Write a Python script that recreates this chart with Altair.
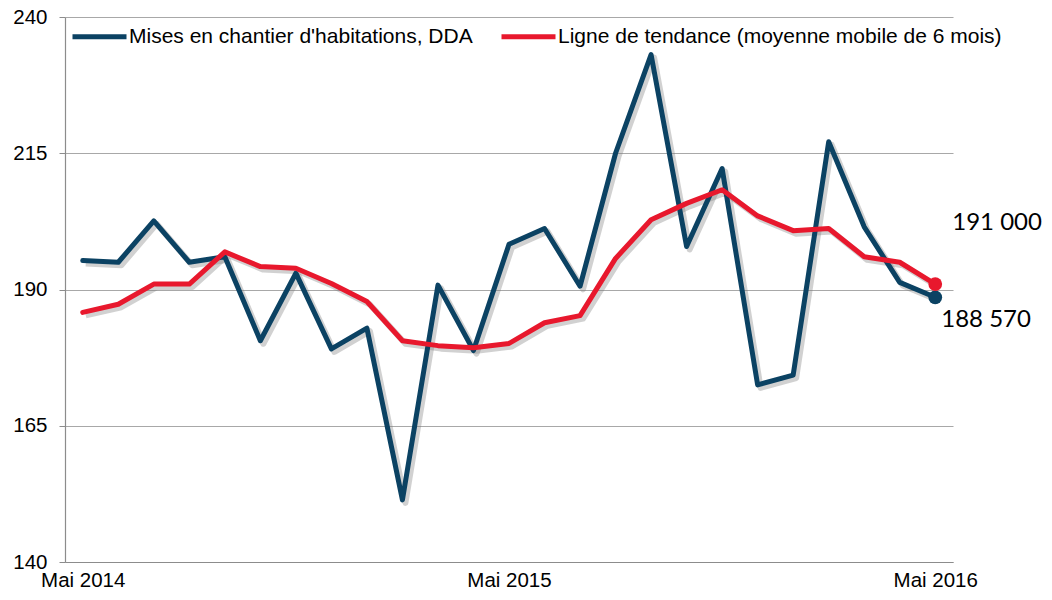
import altair as alt
import pandas as pd

months = ["Mai 2014", "Juin 2014", "Juillet 2014", "Août 2014", "Septembre 2014", "Octobre 2014",
          "Novembre 2014", "Décembre 2014", "Janvier 2015", "Février 2015", "Mars 2015", "Avril 2015",
          "Mai 2015", "Juin 2015", "Juillet 2015", "Août 2015", "Septembre 2015", "Octobre 2015",
          "Novembre 2015", "Décembre 2015", "Janvier 2016", "Février 2016", "Mars 2016", "Avril 2016",
          "Mai 2016"]

mises = [195.3, 195.0, 202.6, 195.0, 196.0, 180.6, 193.0, 179.1, 182.9, 151.4, 190.8, 178.8,
         198.3, 201.2, 190.6, 215.0, 233.1, 197.9, 212.2, 172.5, 174.3, 217.1, 201.5, 191.3, 188.57]

tendance = [185.8, 187.3, 191.0, 191.0, 196.9, 194.2, 193.9, 191.1, 187.8, 180.6, 179.7, 179.3,
            180.1, 183.9, 185.2, 195.7, 202.8, 205.8, 208.3, 203.5, 200.8, 201.2, 196.0, 195.0, 191.0]

series_names = ["Mises en chantier d'habitations, DDA",
                "Ligne de tendance (moyenne mobile de 6 mois)"]
series_colors = ["#0B4263", "#E8182D"]
end_labels = ["188 570", "191 000"]
x_labels = ["Mai 2014", "Mai 2015", "Mai 2016"]
y_ticks = [140, 165, 190, 215, 240]

rows = []
for s, vals in zip(series_names, [mises, tendance]):
    for m, v in zip(months, vals):
        rows.append({"mois": m, "serie": s, "valeur": v})
df = pd.DataFrame(rows)

end_df = pd.DataFrame({
    "mois": [months[-1], months[-1]],
    "serie": series_names,
    "valeur": [mises[-1], tendance[-1]],
    "texte": end_labels,
})

FONT = "Liberation Sans"

x_enc = alt.X("mois:O", sort=months,
              scale=alt.Scale(padding=0.5),
              axis=alt.Axis(title=None, values=x_labels, labelAngle=0, ticks=False,
                            labelFontSize=20.5, labelFont=FONT, labelColor="#000000",
                            labelPadding=8, domainColor="#8c8c8c", domainWidth=1.2,
                            grid=False, labelOverlap=False, labelBound=False, labelFlush=False))
y_enc = alt.Y("valeur:Q",
              scale=alt.Scale(domain=[140, 240], nice=False, zero=False),
              axis=alt.Axis(title=None, values=y_ticks, tickSize=6, tickColor="#8c8c8c",
                            labelFontSize=20.5, labelFont=FONT, labelColor="#000000",
                            labelPadding=12, domainColor="#8c8c8c", domainWidth=1.2,
                            gridColor="#a8a8a8", gridWidth=1.2))

color_scale = alt.Scale(domain=series_names, range=series_colors)

shadow = alt.Chart(df).mark_line(strokeWidth=6, color="#7a7a7a", opacity=0.35,
                                 xOffset=3, yOffset=3, strokeJoin="round").encode(
    x=x_enc, y=y_enc, detail="serie:N")

lines = alt.Chart(df).mark_line(strokeWidth=5, strokeJoin="round", strokeCap="round").encode(
    x=x_enc, y=y_enc,
    color=alt.Color("serie:N", scale=color_scale, sort=series_names,
                    legend=alt.Legend(title=None, orient="none", legendX=5, legendY=-10,
                                      direction="horizontal", symbolType="stroke",
                                      symbolSize=2916, symbolStrokeWidth=5,
                                      labelFontSize=21, labelFont=FONT, labelColor="#000000",
                                      labelOffset=0, columnPadding=18, labelLimit=600)))

dots = alt.Chart(end_df).mark_circle(size=190, opacity=1).encode(
    x=x_enc, y=y_enc,
    color=alt.Color("serie:N", scale=color_scale, legend=None))

lab_red = alt.Chart(end_df).transform_filter(
    alt.datum.serie == series_names[1]).mark_text(
    align="left", baseline="middle", dx=17, dy=-61, fontSize=24, font="Lato", color="#000000").encode(
    x=x_enc, y=y_enc, text="texte:N")

lab_blue = alt.Chart(end_df).transform_filter(
    alt.datum.serie == series_names[0]).mark_text(
    align="left", baseline="middle", dx=6, dy=23, fontSize=24, font="Lato", color="#000000").encode(
    x=x_enc, y=y_enc, text="texte:N")

chart = alt.layer(shadow, lines, dots, lab_red, lab_blue).properties(
    width=888, height=545,
    autosize=alt.AutoSizeParams(type="none"),
    padding={"left": 57, "top": 9, "right": 91, "bottom": 29},
).configure_view(stroke=None)

chart.save("out.html", embed_options={"renderer": "svg", "actions": False})
